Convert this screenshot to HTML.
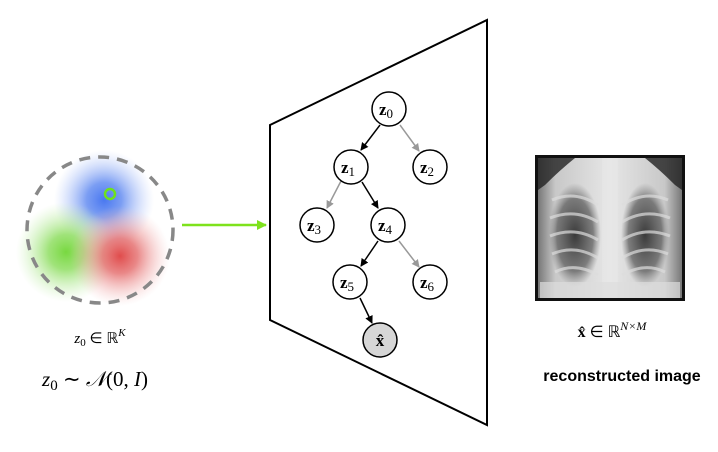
<!DOCTYPE html>
<html><head><meta charset="utf-8"><style>
body{margin:0;background:#fff;width:718px;height:447px;overflow:hidden}
text{font-family:"Liberation Serif",serif}
</style></head><body>
<svg width="718" height="447" viewBox="0 0 718 447">
<defs>
<radialGradient id="gb"><stop offset="0" stop-color="#4a78f0"/><stop offset="0.35" stop-color="#5a85f0" stop-opacity="0.8"/><stop offset="1" stop-color="#b0c4fa" stop-opacity="0"/></radialGradient>
<radialGradient id="gg"><stop offset="0" stop-color="#78d840"/><stop offset="0.35" stop-color="#88dc58" stop-opacity="0.8"/><stop offset="1" stop-color="#c5efb0" stop-opacity="0"/></radialGradient>
<radialGradient id="gr"><stop offset="0" stop-color="#e04c4c"/><stop offset="0.35" stop-color="#e46a6a" stop-opacity="0.8"/><stop offset="1" stop-color="#f5c0c0" stop-opacity="0"/></radialGradient>
<radialGradient id="lung"><stop offset="0" stop-color="#3a3a3a"/><stop offset="0.7" stop-color="#555" stop-opacity="0.7"/><stop offset="1" stop-color="#777" stop-opacity="0"/></radialGradient>
<linearGradient id="xr" x1="0" x2="1"><stop offset="0" stop-color="#777"/><stop offset="0.12" stop-color="#c8c8c8"/><stop offset="0.5" stop-color="#e6e6e6"/><stop offset="0.88" stop-color="#c8c8c8"/><stop offset="1" stop-color="#777"/></linearGradient>
<marker id="ab" markerWidth="8" markerHeight="8" refX="7" refY="4" orient="auto" markerUnits="userSpaceOnUse"><path d="M0,0 L8,4 L0,8 z" fill="#000"/></marker>
<marker id="ag" markerWidth="8" markerHeight="8" refX="7" refY="4" orient="auto" markerUnits="userSpaceOnUse"><path d="M0,0 L8,4 L0,8 z" fill="#999"/></marker>
<marker id="agr" markerWidth="10" markerHeight="10" refX="9" refY="5" orient="auto" markerUnits="userSpaceOnUse"><path d="M0,0 L10,5 L0,10 z" fill="#7ee21c"/></marker>
</defs>
<circle cx="104" cy="200" r="50" fill="url(#gb)"/>
<circle cx="66" cy="252" r="50" fill="url(#gg)"/>
<circle cx="120" cy="256" r="50" fill="url(#gr)"/>
<circle cx="100" cy="230" r="73" fill="none" stroke="#888" stroke-width="3.5" stroke-dasharray="11,8"/>
<circle cx="110" cy="194" r="5" fill="none" stroke="#6ee21c" stroke-width="2.5"/>
<line x1="182" y1="225" x2="266" y2="225" stroke="#7ee21c" stroke-width="2.5" marker-end="url(#agr)"/>
<polygon points="270,125 487,20 487,425 270,320" fill="none" stroke="#000" stroke-width="2"/>
<g stroke-width="1.5">
<line x1="380" y1="125" x2="361" y2="150" stroke="#000" marker-end="url(#ab)"/>
<line x1="400" y1="125" x2="419" y2="151" stroke="#999" marker-end="url(#ag)"/>
<line x1="341" y1="181" x2="327" y2="208" stroke="#999" marker-end="url(#ag)"/>
<line x1="362" y1="182" x2="378" y2="208" stroke="#000" marker-end="url(#ab)"/>
<line x1="378" y1="241" x2="361" y2="266" stroke="#000" marker-end="url(#ab)"/>
<line x1="399" y1="241" x2="419" y2="267" stroke="#999" marker-end="url(#ag)"/>
<line x1="360" y1="298" x2="372" y2="323" stroke="#000" marker-end="url(#ab)"/>
</g>
<g stroke="#000" stroke-width="1.5" fill="#fff">
<circle cx="389" cy="109" r="17"/><circle cx="351" cy="167" r="17"/><circle cx="430" cy="167" r="17"/>
<circle cx="317" cy="225" r="17"/><circle cx="388" cy="225" r="17"/><circle cx="350" cy="282" r="17"/>
<circle cx="430" cy="282" r="17"/><circle cx="380" cy="340" r="17" fill="#d6d6d6"/>
</g>
<g font-size="17" font-weight="bold" text-anchor="middle">
<text x="386" y="115">z<tspan font-weight="normal" font-size="13" dy="3">0</tspan></text>
<text x="348" y="173">z<tspan font-weight="normal" font-size="13" dy="3">1</tspan></text>
<text x="427" y="173">z<tspan font-weight="normal" font-size="13" dy="3">2</tspan></text>
<text x="314" y="231">z<tspan font-weight="normal" font-size="13" dy="3">3</tspan></text>
<text x="385" y="231">z<tspan font-weight="normal" font-size="13" dy="3">4</tspan></text>
<text x="347" y="288">z<tspan font-weight="normal" font-size="13" dy="3">5</tspan></text>
<text x="427" y="288">z<tspan font-weight="normal" font-size="13" dy="3">6</tspan></text>
<text x="380" y="346">x̂</text>
</g>
<rect x="535" y="155" width="150" height="146" fill="#111"/>
<rect x="538" y="158" width="144" height="140" fill="url(#xr)"/>
<path d="M538,158 L575,158 Q560,170 545,185 L538,190 z" fill="#222" opacity="0.8"/>
<path d="M682,158 L645,158 Q660,170 675,185 L682,190 z" fill="#222" opacity="0.8"/>
<ellipse cx="575" cy="235" rx="26" ry="52" fill="url(#lung)"/>
<ellipse cx="645" cy="235" rx="24" ry="52" fill="url(#lung)"/>
<g stroke="#ddd" stroke-width="3" fill="none" opacity="0.7">
<path d="M552,200 Q575,190 598,205"/><path d="M550,218 Q575,208 598,222"/><path d="M550,236 Q575,226 598,240"/><path d="M552,254 Q575,244 598,258"/><path d="M555,272 Q575,262 598,275"/>
<path d="M668,200 Q645,190 622,205"/><path d="M670,218 Q645,208 622,222"/><path d="M670,236 Q645,226 622,240"/><path d="M668,254 Q645,244 622,258"/><path d="M665,272 Q645,262 622,275"/>
</g>
<rect x="602" y="158" width="16" height="140" fill="#e8e8e8" opacity="0.6"/>
<rect x="540" y="282" width="140" height="16" fill="#ddd" opacity="0.7"/>
<text x="100" y="343" font-size="15" text-anchor="middle" font-style="italic">z<tspan font-style="normal" font-size="11" dy="3">0</tspan><tspan dy="-3" font-style="normal"> ∈ ℝ</tspan><tspan font-size="11" dy="-7">K</tspan></text>
<text x="95" y="386" font-size="21" text-anchor="middle" font-style="italic">z<tspan font-style="normal" font-size="15" dy="4">0</tspan><tspan dy="-4" font-style="normal"> ∼ </tspan>𝒩<tspan font-style="normal">(0, </tspan>I<tspan font-style="normal">)</tspan></text>
<text x="612" y="337" font-size="16" text-anchor="middle"><tspan font-weight="bold">x̂</tspan> ∈ ℝ<tspan font-size="12" dy="-7" font-style="italic">N×M</tspan></text>
<text x="622" y="381" font-size="16" font-weight="bold" text-anchor="middle" style="font-family:'Liberation Sans',sans-serif">reconstructed image</text>
</svg>
</body></html>
